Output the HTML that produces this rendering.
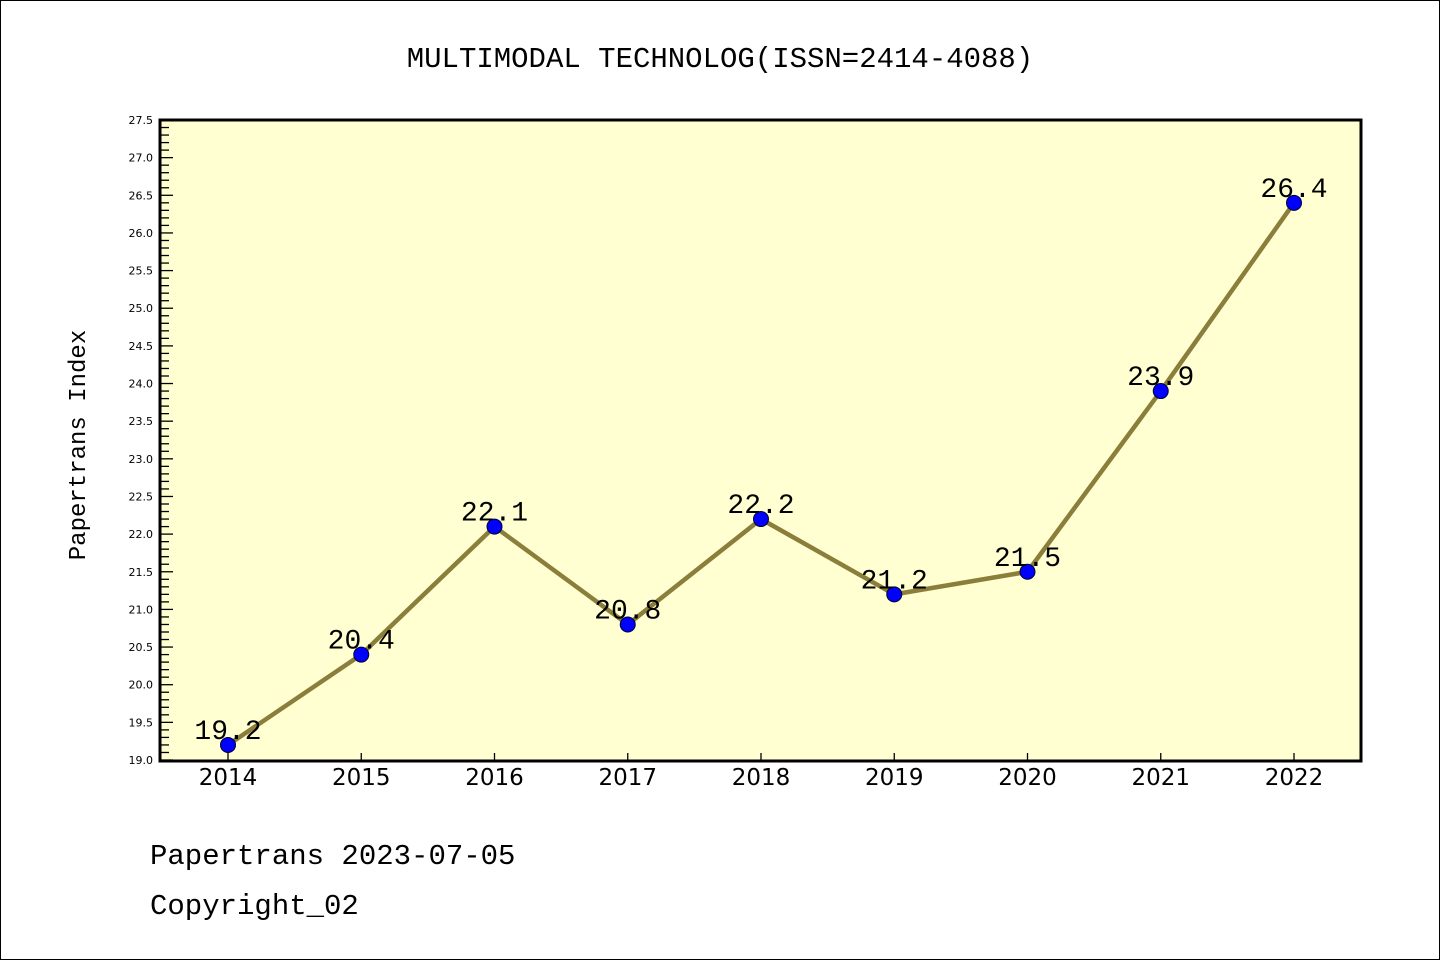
<!DOCTYPE html>
<html><head><meta charset="utf-8"><style>
body{margin:0;background:#fff;}
svg{display:block;font-family:"Liberation Mono","Noto Sans CJK SC",monospace;}
</style></head><body>
<svg width="1440" height="960">
<rect x="0.5" y="0.5" width="1439" height="959" fill="#fff" stroke="#000"/>
<text x="720" y="67" text-anchor="middle" font-size="29">MULTIMODAL TECHNOLOG(ISSN=2414-4088)</text>
<rect x="160" y="120" width="1201" height="641" fill="#ffffd2"/>
<g id="yticks"></g><g id="xticks"></g><g id="series"></g>
<rect x="160" y="120" width="1201" height="641" fill="none" stroke="#000" stroke-width="3"/>
<text transform="translate(85,445) rotate(-90)" text-anchor="middle" font-size="24">Papertrans Index</text>
<text x="150" y="864" font-size="29">Papertrans 2023-07-05</text>
<text x="150" y="914" font-size="29">Copyright_02</text>
</svg>
<script>
const years=["2014","2015","2016","2017","2018","2019","2020","2021","2022"];
const values=[19.2,20.4,22.1,20.8,22.2,21.2,21.5,23.9,26.4];
const labels=["19.2","20.4","22.1","20.8","22.2","21.2","21.5","23.9","26.4"];
const yMin=19.0,yMax=27.5;
const NS="http://www.w3.org/2000/svg";
function y(v){return 760-(v-yMin)/(yMax-yMin)*640;}
function x(i){return 228+i*(1294-228)/(years.length-1);}
function mk(tag,attrs,parent){const e=document.createElementNS(NS,tag);for(const k in attrs)e.setAttribute(k,attrs[k]);document.getElementById(parent).appendChild(e);return e;}
for(let k=0;k<=Math.round((yMax-yMin)*10);k++){
 const v=yMin+k*0.1, yy=y(v), major=k%5===0;
 const t=mk("line",{x1:160,x2:major?173:169,y1:yy,y2:yy,stroke:"#000","stroke-width":1.3},"yticks");
 
 
 if(major){
  const l=mk("text",{x:153,y:yy+4,"text-anchor":"end","font-size":11,"font-family":"DejaVu Sans, sans-serif"},"yticks");
  l.textContent=v.toFixed(1);
  
  
 }
}
years.forEach((yr,i)=>{
 const t=mk("line",{x1:x(i),x2:x(i),y1:761,y2:753,stroke:"#000","stroke-width":1.3},"xticks");
 
 
 const l=mk("text",{x:x(i),y:785,"text-anchor":"middle","font-size":23,"font-family":"DejaVu Sans, sans-serif"},"xticks");
 l.textContent=yr;
 
 
});
const pl=mk("polyline",{points:values.map((v,i)=>x(i)+","+y(v)).join(" "),fill:"none",stroke:"#8b7d3a","stroke-width":4.5},"series");


values.forEach((v,i)=>{
 const c=mk("circle",{cx:x(i),cy:y(v),r:7.5,fill:"#0000ff",stroke:"#000033","stroke-width":1},"series");
 
 
 const t=mk("text",{x:x(i),y:y(v)-6,"text-anchor":"middle","font-size":28},"series");
 t.textContent=labels[i];
 
 
});
</script>
</body></html>
